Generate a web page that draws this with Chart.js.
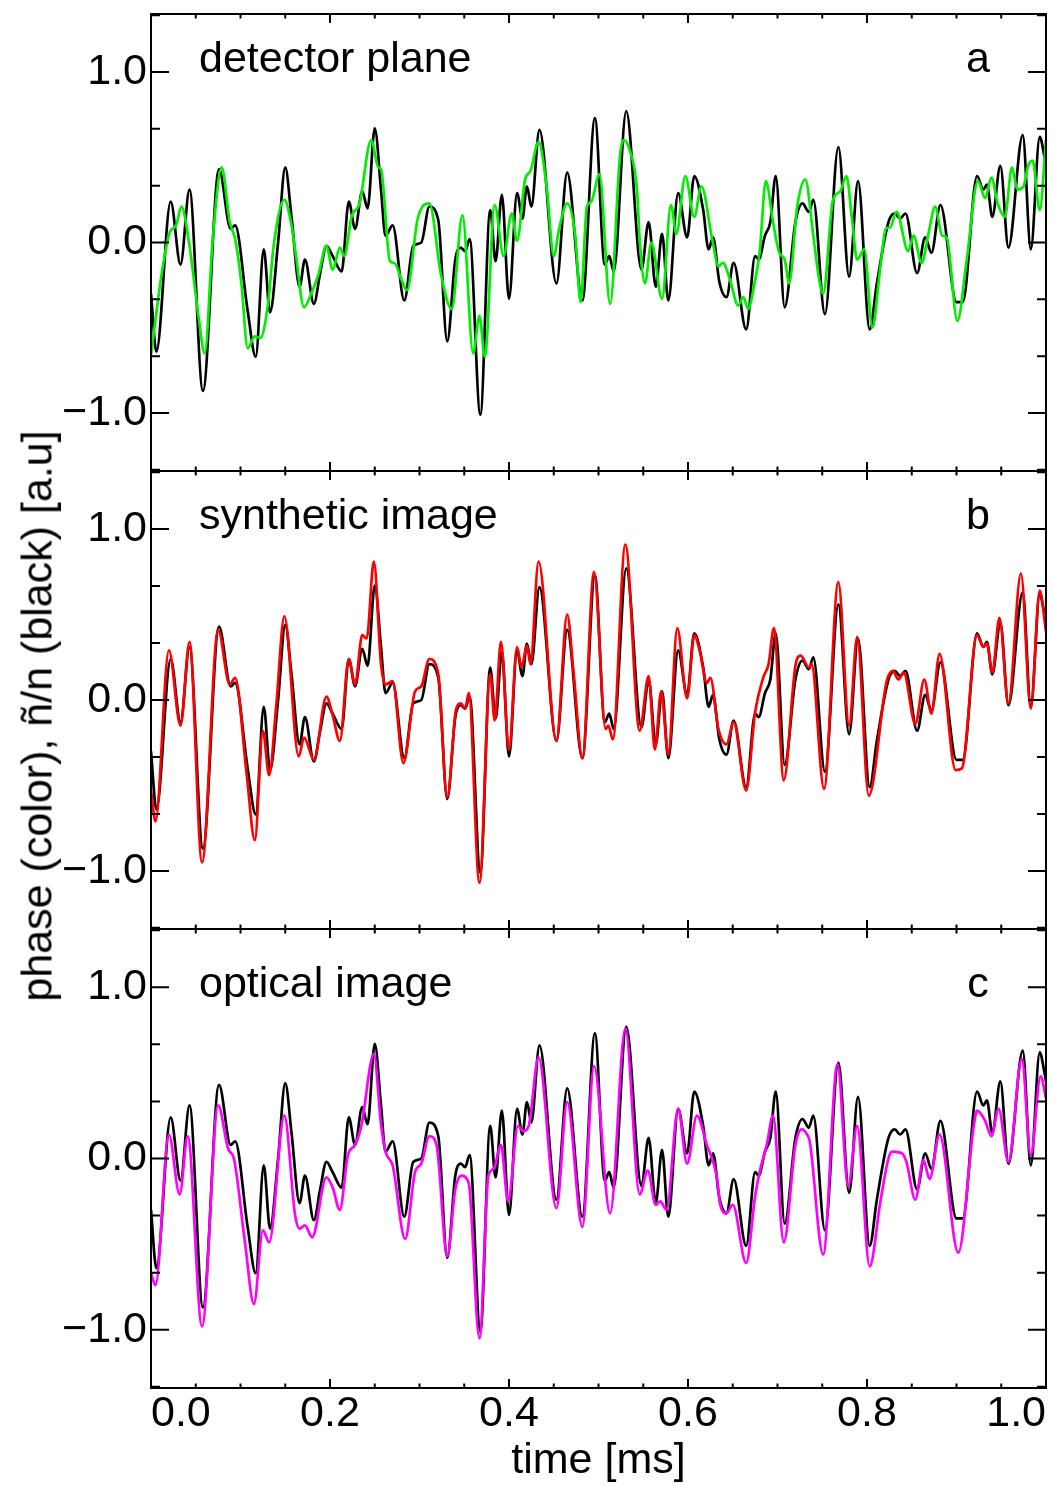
<!DOCTYPE html>
<html>
<head>
<meta charset="utf-8">
<script src="https://cdn.jsdelivr.net/npm/chart.js@4.4.1/dist/chart.umd.min.js"></script>
<style>
  body { margin: 0; background: #fff; }
  #wrap { position: relative; width: 1053px; height: 1487px; }
  canvas { position: absolute; left: 0; }
  #ylab {
    position: absolute; left: 37px; top: 716px;
    transform: translate(-50%, -50%) rotate(-90deg);
    font: 43px "Liberation Sans", Arial, sans-serif;
    white-space: nowrap; line-height: 1; color: #000;
  }
</style>
</head>
<body>
<div id="wrap">
  <canvas id="panelA" width="1053" height="480" style="top:0px"></canvas>
  <canvas id="panelB" width="1053" height="480" style="top:462px"></canvas>
  <canvas id="panelC" width="1053" height="567" style="top:920px"></canvas>
  <div id="ylab">phase (color), ñ/n (black) [a.u]</div>
</div>
<script>
// density fluctuation ñ/n (same trace in all three panels)
const blackT = [0.000,0.006,0.022,0.033,0.043,0.058,0.076,0.089,0.094,0.108,
  0.117,0.126,0.133,0.142,0.150,0.157,0.166,0.172,0.182,0.189,
  0.196,0.203,0.213,0.221,0.228,0.236,0.242,0.250,0.257,0.262,
  0.270,0.283,0.293,0.302,0.311,0.321,0.331,0.340,0.346,0.351,
  0.356,0.368,0.379,0.385,0.392,0.400,0.409,0.415,0.420,0.425,
  0.434,0.453,0.465,0.482,0.496,0.507,0.512,0.517,0.531,0.548,
  0.556,0.564,0.571,0.578,0.589,0.599,0.607,0.617,0.623,0.628,
  0.635,0.643,0.651,0.665,0.675,0.679,0.686,0.692,0.698,0.708,
  0.720,0.728,0.735,0.740,0.753,0.768,0.780,0.790,0.803,0.811,
  0.824,0.831,0.837,0.843,0.856,0.865,0.872,0.882,0.900,0.907,
  0.923,0.930,0.934,0.940,0.949,0.958,0.974,0.983,0.993,0.998,1.000];
const blackV = [-0.30,-0.64,0.24,-0.13,0.31,-0.87,0.43,0.08,0.10,-0.40,
  -0.67,-0.04,-0.41,0.00,0.44,0.15,-0.26,-0.10,-0.36,-0.18,
  -0.02,-0.08,-0.17,0.24,0.08,0.30,0.20,0.67,0.31,0.04,
  0.10,-0.34,-0.02,0.00,0.21,0.13,-0.58,-0.10,-0.03,-0.05,
  0.02,-1.01,0.19,-0.11,0.28,-0.33,0.29,0.14,0.33,0.21,
  0.66,-0.24,0.41,-0.34,0.73,-0.13,-0.08,-0.17,0.77,-0.16,
  0.12,-0.26,0.05,-0.34,0.29,0.03,0.39,0.19,-0.04,0.03,
  -0.23,-0.32,-0.12,-0.51,-0.08,-0.10,0.04,0.12,0.39,-0.38,
  0.12,0.23,0.18,0.25,-0.42,0.56,-0.20,0.36,-0.51,-0.24,
  0.12,0.17,0.14,0.17,-0.18,0.03,-0.06,0.22,-0.35,-0.35,
  0.39,0.31,0.34,0.15,0.45,-0.03,0.63,-0.04,0.62,0.51,0.45];

// phase, detector plane (a)
const greenT = [0.000,0.012,0.021,0.028,0.034,0.043,0.053,0.060,0.069,0.079,
  0.088,0.094,0.101,0.108,0.116,0.122,0.131,0.137,0.149,0.157,
  0.162,0.171,0.179,0.187,0.196,0.203,0.211,0.216,0.224,0.233,
  0.246,0.254,0.257,0.267,0.272,0.280,0.286,0.298,0.311,0.324,
  0.336,0.348,0.360,0.367,0.373,0.384,0.394,0.403,0.409,0.418,
  0.424,0.433,0.442,0.450,0.456,0.465,0.474,0.480,0.487,0.492,
  0.501,0.513,0.524,0.528,0.535,0.543,0.546,0.552,0.559,0.571,
  0.581,0.587,0.597,0.607,0.615,0.627,0.634,0.639,0.647,0.656,
  0.662,0.667,0.675,0.680,0.687,0.695,0.702,0.708,0.713,0.722,
  0.731,0.740,0.746,0.751,0.762,0.770,0.777,0.783,0.789,0.797,
  0.806,0.815,0.821,0.826,0.833,0.846,0.852,0.861,0.869,0.876,
  0.884,0.889,0.901,0.911,0.924,0.932,0.939,0.946,0.954,0.962,
  0.968,0.975,0.980,0.985,0.993,1.000];
const greenV = [-0.66,-0.18,0.06,0.10,0.21,-0.02,-0.43,-0.65,0.02,0.44,
  0.12,0.02,-0.24,-0.62,-0.55,-0.56,-0.35,-0.02,0.25,0.10,
  -0.08,-0.38,-0.30,-0.19,-0.02,-0.16,-0.03,-0.08,0.15,0.23,
  0.60,0.44,0.43,-0.11,-0.12,-0.22,-0.28,0.14,0.23,-0.19,
  -0.39,0.16,-0.65,-0.43,-0.67,0.22,-0.08,0.17,0.01,0.37,
  0.42,0.59,0.33,-0.08,0.08,0.23,0.04,-0.35,0.21,0.24,
  0.40,-0.36,0.51,0.60,0.54,0.31,0.02,-0.24,0.00,-0.33,
  0.22,0.05,0.39,0.15,0.33,0.02,-0.14,-0.12,-0.22,-0.37,
  -0.32,-0.39,-0.22,-0.06,0.36,0.12,-0.06,-0.10,-0.24,0.21,
  0.37,0.04,-0.20,-0.30,0.25,0.30,0.39,0.15,-0.10,-0.04,
  -0.50,-0.14,0.08,0.09,0.18,-0.05,0.04,-0.12,0.06,0.21,
  0.04,0.03,-0.46,-0.12,0.36,0.26,0.38,0.23,0.15,0.44,
  0.31,0.33,0.45,0.48,0.19,0.60];

// phase, synthetic image (b)
const redT = [0.000,0.005,0.020,0.033,0.043,0.057,0.075,0.088,0.094,0.107,
  0.116,0.125,0.132,0.140,0.149,0.165,0.171,0.182,0.196,0.203,
  0.211,0.221,0.228,0.236,0.241,0.249,0.257,0.262,0.270,0.282,
  0.295,0.302,0.311,0.321,0.331,0.341,0.346,0.351,0.355,0.367,
  0.379,0.384,0.391,0.400,0.409,0.414,0.420,0.424,0.433,0.453,
  0.465,0.472,0.482,0.495,0.508,0.511,0.516,0.530,0.546,0.556,
  0.563,0.570,0.578,0.588,0.599,0.607,0.613,0.621,0.625,0.634,
  0.643,0.651,0.665,0.675,0.684,0.690,0.696,0.707,0.720,0.726,
  0.735,0.738,0.752,0.768,0.780,0.789,0.802,0.822,0.829,0.835,
  0.841,0.854,0.864,0.872,0.881,0.899,0.906,0.923,0.930,0.934,
  0.940,0.948,0.958,0.972,0.983,0.993,1.000];
const redV = [-0.53,-0.71,0.29,-0.15,0.34,-0.95,0.41,0.09,0.13,-0.44,
  -0.82,-0.18,-0.44,-0.03,0.49,-0.33,-0.22,-0.35,0.02,-0.09,
  -0.24,0.24,0.09,0.38,0.36,0.81,0.21,0.09,0.11,-0.37,
  0.05,0.08,0.24,0.15,-0.57,-0.05,-0.02,-0.05,0.04,-1.07,
  0.15,-0.12,0.34,-0.29,0.31,0.19,0.32,0.21,0.81,-0.24,
  0.50,0.17,-0.34,0.75,-0.17,-0.15,-0.23,0.91,-0.18,0.14,
  -0.29,0.05,-0.32,0.42,0.01,0.38,0.29,0.10,0.13,-0.17,
  -0.26,-0.13,-0.53,-0.07,0.13,0.21,0.42,-0.47,0.20,0.26,
  0.19,0.21,-0.52,0.69,-0.15,0.37,-0.56,0.11,0.17,0.12,
  0.16,-0.14,0.12,-0.08,0.27,-0.41,-0.40,0.38,0.31,0.33,
  0.16,0.48,-0.02,0.74,-0.05,0.64,0.40];

// phase, optical image (c)
const magT = [0.000,0.005,0.020,0.032,0.041,0.057,0.075,0.086,0.093,0.105,
  0.115,0.125,0.132,0.149,0.161,0.166,0.172,0.180,0.196,0.203,
  0.211,0.220,0.228,0.235,0.249,0.257,0.262,0.270,0.284,0.295,
  0.302,0.311,0.319,0.331,0.340,0.347,0.353,0.356,0.367,0.377,
  0.383,0.391,0.399,0.410,0.416,0.422,0.433,0.453,0.465,0.482,
  0.495,0.513,0.530,0.546,0.555,0.564,0.569,0.576,0.589,0.599,
  0.610,0.621,0.632,0.636,0.643,0.650,0.665,0.675,0.680,0.688,
  0.695,0.707,0.720,0.727,0.733,0.736,0.751,0.767,0.779,0.789,
  0.803,0.815,0.824,0.828,0.839,0.844,0.854,0.863,0.870,0.881,
  0.902,0.919,0.923,0.932,0.939,0.947,0.958,0.973,0.983,0.994,1.000];
const magV = [-0.67,-0.74,0.14,-0.21,0.13,-0.98,0.31,0.06,-0.01,-0.49,
  -0.85,-0.42,-0.49,0.25,-0.33,-0.41,-0.39,-0.46,-0.11,-0.17,
  -0.30,0.02,0.08,0.19,0.61,0.20,0.04,-0.04,-0.47,-0.08,
  -0.03,0.13,0.08,-0.57,-0.18,-0.10,-0.12,-0.18,-1.05,-0.10,
  -0.06,0.08,-0.25,0.19,0.16,0.19,0.59,-0.29,0.33,-0.40,
  0.54,-0.32,0.76,-0.21,-0.07,-0.27,-0.25,-0.30,0.29,-0.03,
  0.25,0.08,-0.10,-0.27,-0.32,-0.27,-0.61,-0.22,-0.08,0.08,
  0.25,-0.49,0.08,0.17,0.14,0.10,-0.56,0.55,-0.16,0.19,
  -0.63,-0.25,0.00,0.04,0.03,-0.02,-0.24,-0.01,-0.12,0.14,
  -0.55,0.18,0.28,0.22,0.13,0.29,-0.02,0.58,0.02,0.48,0.35];

const xTickStep = 0.2;
const yTickStep = 1;
const FONT = '"Liberation Sans", Arial, Helvetica, sans-serif';
const fontMain = { family: FONT, size: 43 };

const pts = (tt, vv) => tt.map((x, i) => ({ x, y: vv[i] }));
const fmtY = v => (v < 0 ? '\u2212' : '') + Math.abs(v).toFixed(1);

// box frame with IDL-style inward ticks plus panel captions
const panelFrame = {
  id: 'panelFrame',
  afterDatasetsDraw(chart, args, opts) {
    const { ctx, chartArea: a, scales: { x, y } } = chart;
    ctx.save();
    ctx.strokeStyle = '#000';
    ctx.lineWidth = 2;
    ctx.strokeRect(a.left, a.top, a.right - a.left, a.bottom - a.top);
    ctx.beginPath();
    for (let i = 0; i <= 20; i++) {
      const px = x.getPixelForValue(i * 0.05);
      const len = i % 4 === 0 ? 9 : 4.5;
      ctx.moveTo(px, a.bottom); ctx.lineTo(px, a.bottom - len);
      ctx.moveTo(px, a.top); ctx.lineTo(px, a.top + len);
    }
    for (let k = -4; k <= 4; k++) {
      const py = y.getPixelForValue(k / 3);
      const len = k % 3 === 0 ? 18 : 9;
      ctx.moveTo(a.left, py); ctx.lineTo(a.left + len, py);
      ctx.moveTo(a.right, py); ctx.lineTo(a.right - len, py);
    }
    ctx.stroke();
    ctx.fillStyle = '#000';
    ctx.font = '43px ' + FONT;
    ctx.textBaseline = 'middle';
    ctx.textAlign = 'left';
    ctx.fillText(opts.label, a.left + 48, a.top + opts.dy);
    ctx.textAlign = 'center';
    ctx.fillText(opts.letter, a.left + 827, a.top + opts.dy);
    ctx.restore();
  }
};

function makePanel(id, t, v, color, label, letter, dy, pad, showX) {
  return new Chart(document.getElementById(id), {
    type: 'line',
    data: {
      datasets: [
        { data: pts(t, v), borderColor: color, borderWidth: 2.7 },
        { data: pts(blackT, blackV), borderColor: '#000', borderWidth: 2.7 }
      ]
    },
    options: {
      responsive: false,
      animation: false,
      layout: { padding: pad },
      elements: {
        point: { radius: 0 },
        line: { cubicInterpolationMode: 'monotone', fill: false }
      },
      plugins: {
        legend: { display: false },
        tooltip: { enabled: false },
        panelFrame: { label, letter, dy }
      },
      scales: {
        x: {
          type: 'linear', min: 0, max: 1, display: showX,
          grid: { display: false, drawTicks: false }, border: { display: false },
          ticks: {
            stepSize: xTickStep, align: 'inner', padding: 0, maxRotation: 0,
            font: fontMain, color: '#000', callback: val => Number(val).toFixed(1)
          },
          title: { display: true, text: 'time [ms]', font: fontMain, color: '#000', padding: 0 },
          afterFit: s => {
            s.height = showX ? 99 : 0;
            s.paddingLeft = 0; s.paddingRight = 0;
          }
        },
        y: {
          min: -1.34, max: 1.34,
          grid: { display: false, drawTicks: false }, border: { display: false },
          ticks: {
            stepSize: yTickStep, includeBounds: false, padding: 4,
            font: fontMain, color: '#000', callback: fmtY
          },
          afterFit: s => {
            s.width = 151;
            s.paddingTop = 0; s.paddingBottom = 0;
          }
        }
      }
    },
    plugins: [panelFrame]
  });
}

makePanel('panelA', greenT, greenV, '#00ee00', 'detector plane', 'a', 46,
  { top: 14, bottom: 9, left: 0, right: 7 }, false);
makePanel('panelB', redT, redV, '#ff0000', 'synthetic image', 'b', 46,
  { top: 9, bottom: 13, left: 0, right: 7 }, false);
makePanel('panelC', magT, magV, '#ff00ff', 'optical image', 'c', 56,
  { top: 9, bottom: 0, left: 0, right: 7 }, true);
</script>
</body>
</html>
